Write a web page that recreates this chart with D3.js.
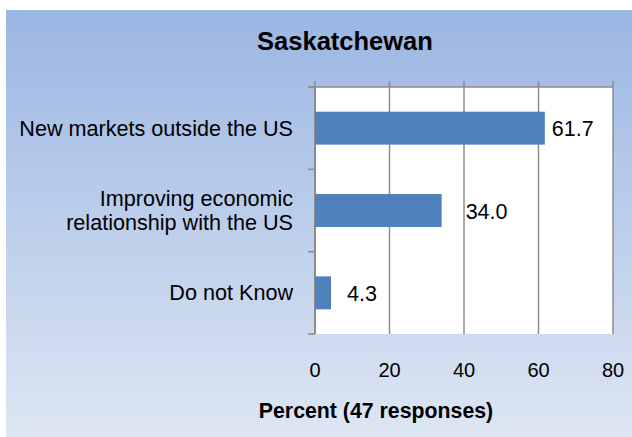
<!DOCTYPE html>
<html>
<head>
<meta charset="utf-8">
<script src="https://cdn.jsdelivr.net/npm/d3@7/dist/d3.min.js"></script>
<style>
  html, body { margin: 0; padding: 0; background: #ffffff; }
  svg { display: block; font-family: "Liberation Sans", Arial, sans-serif; }
</style>
</head>
<body>
<svg id="chart" width="632" height="437"></svg>
<script>
// Survey answers, Saskatchewan
const categories = [
  ["New markets outside the US"],
  ["Improving economic", "relationship with the US"],
  ["Do not Know"]
];
const values = [61.7, 34.0, 4.3];
const xTicks = [0, 20, 40, 60, 80];
const chartTitle = "Saskatchewan";
const axisTitle = "Percent (47 responses)";

const svg = d3.select("#chart");
const W = 632, H = 437;

// background panel with vertical gradient
const defs = svg.append("defs");
const grad = defs.append("linearGradient")
  .attr("id", "bg").attr("x1", 0).attr("y1", 0).attr("x2", 0).attr("y2", 1);
grad.append("stop").attr("offset", "0%").attr("stop-color", "#9bb6e3");
grad.append("stop").attr("offset", "100%").attr("stop-color", "#dde6f3");
svg.append("rect").attr("x", 6).attr("y", 10).attr("width", W - 6).attr("height", H - 10)
  .attr("fill", "url(#bg)");

const plot = { left: 315, right: 613, top: 87, bottom: 334 };

const x = d3.scaleLinear().domain([0, 80]).range([plot.left, plot.right]);
const y = d3.scaleBand().domain(d3.range(categories.length))
  .range([plot.top, plot.bottom]).paddingInner(0.6).paddingOuter(0.3);

// plot area
svg.append("rect")
  .attr("x", plot.left).attr("y", plot.top)
  .attr("width", plot.right - plot.left).attr("height", plot.bottom - plot.top)
  .attr("fill", "#ffffff");

const gridColor = "#8c8c8c";

// vertical gridlines with outward ticks at top
svg.append("g").selectAll("line").data(xTicks).join("line")
  .attr("x1", d => x(d)).attr("x2", d => x(d))
  .attr("y1", plot.top - 6).attr("y2", plot.bottom)
  .attr("stroke", gridColor).attr("stroke-width", 1.5);

// top value axis line
svg.append("line")
  .attr("x1", plot.left - 7).attr("x2", plot.right)
  .attr("y1", plot.top).attr("y2", plot.top)
  .attr("stroke", gridColor).attr("stroke-width", 1.5);

// category axis with boundary ticks
svg.append("line")
  .attr("x1", plot.left).attr("x2", plot.left)
  .attr("y1", plot.top).attr("y2", plot.bottom)
  .attr("stroke", gridColor).attr("stroke-width", 2);
const step = (plot.bottom - plot.top) / categories.length;
svg.append("g").selectAll("line").data(d3.range(categories.length + 1)).join("line")
  .attr("x1", plot.left - 7).attr("x2", plot.left)
  .attr("y1", d => plot.top + d * step).attr("y2", d => plot.top + d * step)
  .attr("stroke", gridColor).attr("stroke-width", 1.5);

// bars
svg.append("g").selectAll("rect").data(values).join("rect")
  .attr("x", x(0)).attr("y", (d, i) => y(i))
  .attr("width", d => x(d) - x(0)).attr("height", y.bandwidth())
  .attr("fill", "#4f81bd");

// value labels
const labelGap = [7, 24, 16];
svg.append("g").selectAll("text").data(values).join("text")
  .attr("x", (d, i) => x(d) + labelGap[i])
  .attr("y", (d, i) => y(i) + y.bandwidth() / 2 + 8)
  .attr("font-size", 21.5).attr("fill", "#000")
  .text(d => d3.format(".1f")(d));

// category labels
const catG = svg.append("g");
categories.forEach((lines, i) => {
  const cy = y(i) + y.bandwidth() / 2;
  const lh = 24;
  const t = catG.append("text")
    .attr("text-anchor", "end").attr("font-size", 21.6).attr("fill", "#000");
  lines.forEach((ln, j) => {
    t.append("tspan").attr("x", 293)
      .attr("y", cy + 7.5 + (j - (lines.length - 1) / 2) * lh)
      .text(ln);
  });
});

// x tick labels
svg.append("g").selectAll("text").data(xTicks).join("text")
  .attr("x", d => x(d)).attr("y", 377)
  .attr("text-anchor", "middle").attr("font-size", 20).attr("fill", "#000")
  .text(d => d);

// titles
svg.append("text").attr("x", 345).attr("y", 50)
  .attr("text-anchor", "middle").attr("font-size", 25.5).attr("font-weight", "bold")
  .text(chartTitle);
svg.append("text").attr("x", 376).attr("y", 418)
  .attr("text-anchor", "middle").attr("font-size", 21.3).attr("font-weight", "bold")
  .text(axisTitle);
</script>
</body>
</html>
